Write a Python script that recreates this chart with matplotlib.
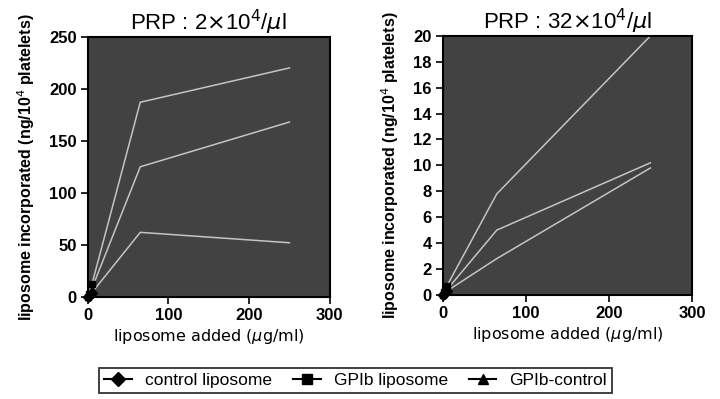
import matplotlib
matplotlib.use("Agg")
import matplotlib.pyplot as plt
from matplotlib.lines import Line2D

plt.rcParams['font.family'] = ['Liberation Sans', 'DejaVu Sans']

# data
x_added = [0, 1, 5, 65, 250]
left_control = [0, 1, 4, 62, 52]
left_gpib = [0, 3, 12, 187, 220]
left_diff = [0, 2, 8, 125, 168]

right_control = [0, 0.1, 0.3, 2.8, 9.8]
right_gpib = [0, 0.2, 0.7, 7.8, 20]
right_diff = [0, 0.1, 0.4, 5.0, 10.2]

left_yticks = [0, 50, 100, 150, 200, 250]
right_yticks = [0, 2, 4, 6, 8, 10, 12, 14, 16, 18, 20]
xticks = [0, 100, 200, 300]
series_names = ['control liposome', 'GPIb liposome', 'GPIb-control']
markers = ['D', 's', '^']

fig = plt.figure(figsize=(7.2, 3.99), dpi=100)
ax1 = fig.add_axes([0.122, 0.256, 0.336, 0.652])
ax2 = fig.add_axes([0.615, 0.261, 0.346, 0.649])

bg = '#424242'
linec = '#c4c4c4'

def draw(ax, series, ylim, yticks, title):
    ax.set_facecolor(bg)
    for ys, m in zip(series, markers):
        ax.plot(x_added, ys, color=linec, lw=1.1, zorder=2)
        ax.plot(x_added[:3], ys[:3], color='black', marker=m, ms=5, lw=0, zorder=3, clip_on=False)
    ax.set_xlim(0, 300)
    ax.set_ylim(*ylim)
    ax.set_xticks(xticks)
    ax.set_yticks(yticks)
    ax.tick_params(direction='out', length=5, width=1.2, labelsize=12, colors='black', pad=3)
    for lab in ax.get_xticklabels() + ax.get_yticklabels():
        lab.set_fontweight('bold')
    for s in ax.spines.values():
        s.set_linewidth(1.5)
    ax.set_xlabel(r'liposome added ($\mu$g/ml)', fontsize=11.5, labelpad=3,
                  family=['DejaVu Sans'])
    ax.set_ylabel(r'liposome incorporated (ng/10$^4$ platelets)', fontsize=11.5,
                  fontweight='bold', labelpad=9)
    ax.set_title(title, fontsize=16, pad=5)

draw(ax1, [left_control, left_gpib, left_diff], (0, 250), left_yticks,
     r'PRP : 2$\times$10$^4$/$\mu$l')
draw(ax2, [right_control, right_gpib, right_diff], (0, 20), right_yticks,
     r'PRP : 32$\times$10$^4$/$\mu$l')

handles = [Line2D([], [], color='black', marker=m, ms=7, lw=1.5) for m in markers]
leg = fig.legend(handles, series_names, loc='center', bbox_to_anchor=(0.494, 0.046),
                 ncol=3, fontsize=12.5, frameon=True, fancybox=False, edgecolor='black',
                 handlelength=1.6, columnspacing=1.2, borderpad=0.3, handletextpad=0.75,
                 borderaxespad=0)
leg.get_frame().set_linewidth(1.3)

fig.savefig('out.png', dpi=100)
